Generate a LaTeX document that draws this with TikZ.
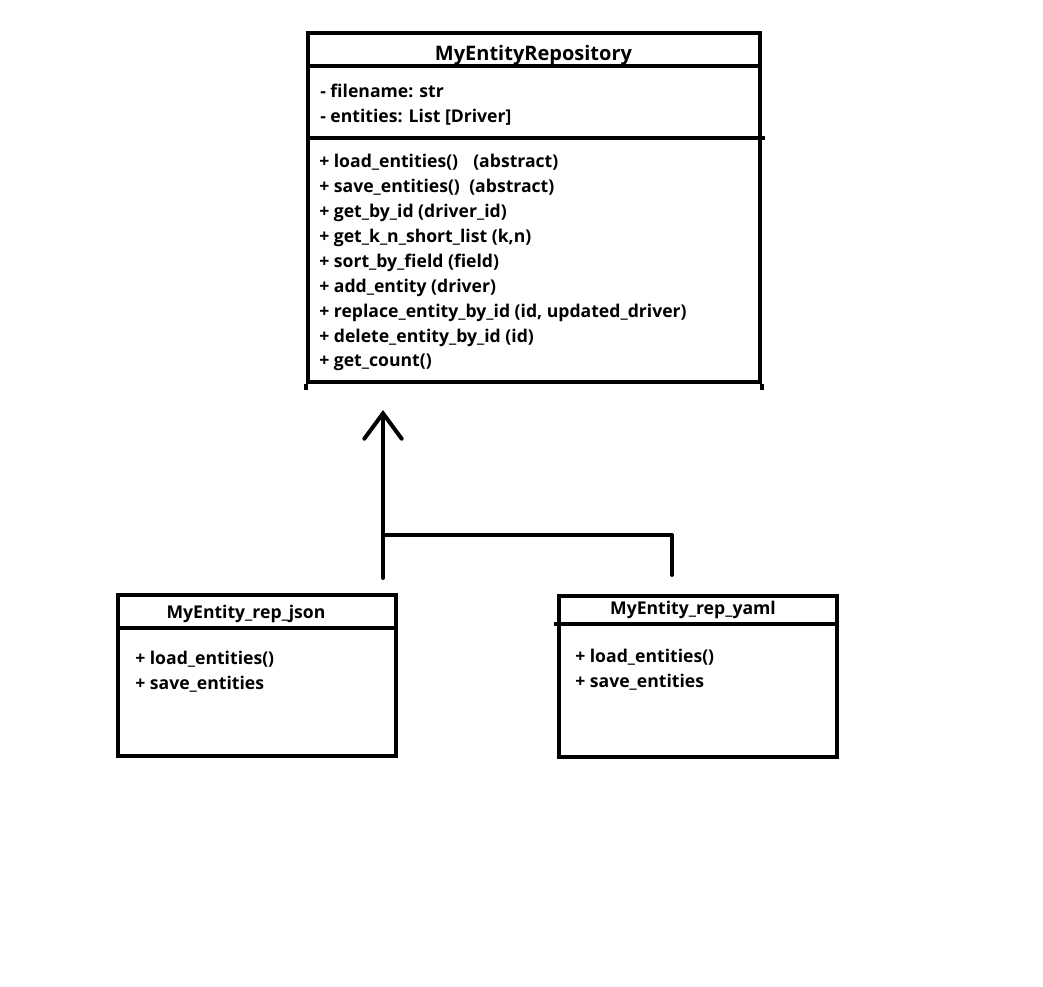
\documentclass[tikz,border=0pt]{standalone}
\usepackage{fontspec}
\setmainfont{Open Sans}
\usetikzlibrary{arrows.meta}
\begin{document}
\begin{tikzpicture}[x=0.75pt,y=-0.75pt,
  classbox/.style={draw, line width=3pt, rectangle, inner sep=0pt},
  divider/.style={line width=3pt},
  member/.style={anchor=base west, inner sep=0pt, font=\fontsize{13.2}{16}\selectfont\bfseries},
  title/.style={anchor=base, inner sep=0pt, font=\fontsize{13.2}{16}\selectfont\bfseries},
  link/.style={line width=3pt, line cap=round, line join=round}]
\useasboundingbox (0,0) rectangle (1043,986);

% abstract repository class
\node[classbox, minimum width=339pt, minimum height=262pt] (repo) at (533.5,207.75) {};
\draw[divider] (repo.south west) -- ++(0,6);
\draw[divider] (repo.south east) -- ++(0,6);
\draw[divider] (repo.west |- 0,66) -- (repo.east |- 0,66);
\draw[divider] (repo.west |- 0,138) -- ([xshift=2.25pt]repo.east |- 0,138);
\node[title, font=\fontsize{15}{18}\selectfont\bfseries] (repotitle) at (533.5,60) {MyEntityRepository};
\node[member] (a1) at (320,97) {- filename: str};
\node[member] (a2) at (320,122) {- entities: List [Driver]};
\node[member] (m1) at (319,167) {+ load\_entities()};
\node[member] (m1b) at (473,167) {(abstract)};
\node[member] (m2) at (319,192) {+ save\_entities()};
\node[member] (m2b) at (469,192) {(abstract)};
\node[member] (m3) at (319,217) {+ get\_by\_id (driver\_id)};
\node[member] (m4) at (319,242) {+ get\_k\_n\_short\_list (k,n)};
\node[member] (m5) at (319,267) {+ sort\_by\_field (field)};
\node[member] (m6) at (319,292) {+ add\_entity (driver)};
\node[member] (m7) at (319,317) {+ replace\_entity\_by\_id (id, updated\_driver)};
\node[member] (m8) at (319,342) {+ delete\_entity\_by\_id (id)};
\node[member] (m9) at (319,366) {+ get\_count()};

% json implementation
\node[classbox, minimum width=208.5pt, minimum height=120.75pt] (json) at (257,675.5) {};
\draw[divider] (json.west |- 0,628) -- (json.east |- 0,628);
\node[title] (jsontitle) at (246,618) {MyEntity\_rep\_json};
\node[member] (j1) at (135,664) {+ load\_entities()};
\node[member] (j2) at (135,689) {+ save\_entities};

% yaml implementation
\node[classbox, minimum width=208.5pt, minimum height=120.75pt] (yaml) at (698,676.5) {};
\draw[divider] ([xshift=-2.25pt]yaml.west |- 0,624) -- (yaml.east |- 0,624);
\node[title] (yamltitle) at (693,614) {MyEntity\_rep\_yaml};
\node[member] (y1) at (575,662) {+ load\_entities()};
\node[member] (y2) at (575,687) {+ save\_entities};

% inheritance connector
\coordinate (jsonout) at (383,578);
\coordinate (yamlout) at (672,575);
\coordinate (joint) at (383,535);
\coordinate (tip) at (383,410);
\draw[link, -{Straight Barb[length=19pt,width=28pt,line cap=round]}] (jsonout) -- (tip);
\draw[link] (yamlout) |- (joint);
\end{tikzpicture}
\end{document}
